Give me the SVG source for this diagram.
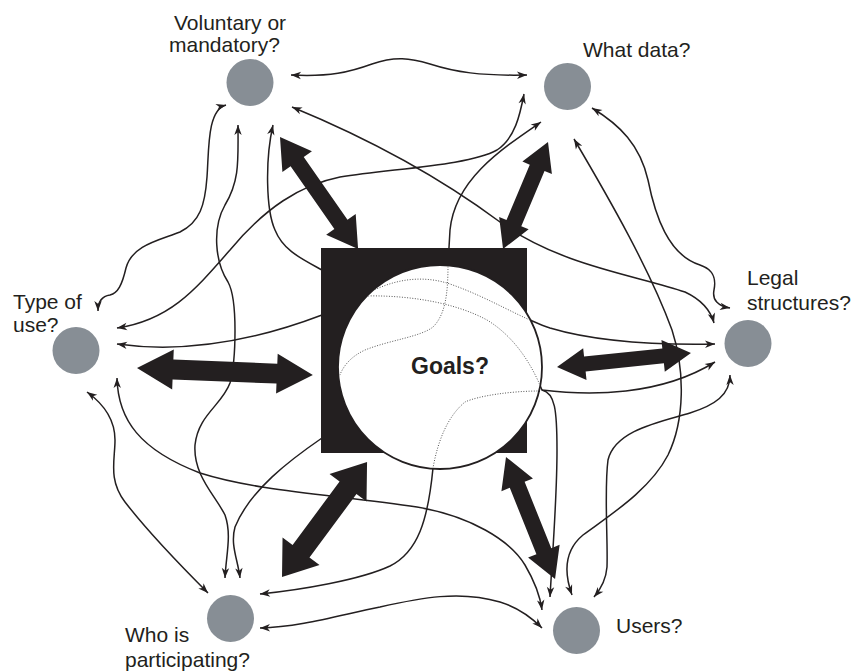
<svg xmlns="http://www.w3.org/2000/svg" width="855" height="672" viewBox="0 0 855 672">
<style>
.lbl{font-family:"Liberation Sans",Arial,sans-serif;font-size:21px;fill:#231f20}
.node{fill:#878e95}
.ln{fill:none;stroke:#231f20;stroke-width:1.5;marker-end:url(#ah)}
.both{marker-start:url(#ah)}
.dot{fill:none;stroke:#555;stroke-width:1;stroke-dasharray:1 1.6}
.thick{fill:#231f20}
</style>
<defs>
<marker id="ah" markerUnits="userSpaceOnUse" markerWidth="11" markerHeight="9" refX="10" refY="4" orient="auto-start-reverse" overflow="visible">
<path d="M0,0.3 L10,4 L0,7.7 L2.8,4 z" fill="#231f20"/>
</marker>
<clipPath id="cc"><circle cx="440" cy="367" r="101"/></clipPath>
</defs>
<rect width="855" height="672" fill="#fff"/>

<g id="connectors">
<path class="ln both" d="M291,75 C330,77 350,72 372,64 C395,56 410,58 430,64 C455,72 480,76 527,75"/>
<path class="ln both" d="M292,107 C360,135 430,170 500,222 C560,266 640,276 685,292 C702,300 711,312 714,323"/>
<path class="ln both" d="M117,328 C170,320 195,290 230,250 C265,208 300,185 340,177 C400,168 470,165 497,150 C515,138 520,115 524,94"/>
<path id="p1" class="ln both" d="M117,344 C160,350 230,350 322,315 C340,308 350,300 363,296 C390,280 420,274 450,284 C490,298 520,318 550,328 C600,343 660,345 715,344"/>
<path id="p2" class="ln" d="M363,296 C400,295 450,300 487,320 C515,337 532,365 542,390 C590,396 660,396 715,362"/>
<path id="p3" class="ln both" d="M541,122 C500,150 455,180 450,230 L448,265 C448,295 445,315 433,327 C420,337 390,340 365,350 C350,357 342,367 338,380 C330,400 325,420 322,438 C290,460 250,490 235,527 C230,545 238,560 240,578"/>
<path id="p4" class="ln" d="M540,391 C510,391 478,396 465,402 C448,416 438,440 433,468 C428,520 418,552 390,566 C360,580 300,590 260,594"/>
<path class="ln" d="M542,390 C555,393 557,410 557,450 C557,500 552,560 550,597"/>
<path class="ln" d="M322,270 C300,258 283,250 275,230 C266,210 265,160 273,125"/>
<path class="ln both" d="M238,125 C238,160 240,180 225,205 C212,228 215,262 228,282 C238,300 236,360 230,383 C222,405 198,415 195,445 C193,475 215,495 225,515 C232,535 226,555 225,578"/>
<path class="ln both" d="M98,311 C98,301 103,296 110,295 C118,293 122,285 126,268 C132,245 160,240 180,232 C200,222 205,205 207,177 C209,150 207,110 226,105"/>
<path class="ln both" d="M87,392 C105,405 115,420 115,440 C115,460 108,480 125,502 C145,528 180,565 208,593"/>
<path class="ln both" d="M117,378 C118,420 140,450 200,473 C260,492 340,495 417,507 C470,516 510,540 525,565 C535,582 540,595 542,610"/>
<path class="ln both" d="M260,628 C300,627 340,615 380,607 C420,598 460,590 500,602 C520,608 532,618 542,628"/>
<path class="ln both" d="M592,108 C620,125 640,145 648,180 C655,215 668,255 700,265 C715,270 716,280 714,290 C712,300 718,306 730,308"/>
<path class="ln both" d="M574,139 C610,200 650,270 672,330 C685,370 685,420 668,455 C650,490 610,515 583,535 C565,550 563,570 572,595"/>
<path class="ln both" d="M730,375 C730,395 715,405 690,413 C660,422 615,430 608,460 C604,490 608,540 607,567 C606,580 600,590 594,597"/>
</g>

<g id="goals">
<rect x="321" y="248" width="206" height="205" fill="#231f20"/>
<circle cx="440" cy="367" r="102" fill="#fff" stroke="#231f20" stroke-width="1.8"/>
<text x="411" y="374" class="lbl" style="font-weight:bold;font-size:23px">Goals?</text>
</g>

<g id="connectors-hidden" clip-path="url(#cc)">
<path class="dot" d="M117,344 C160,350 230,350 322,315 C340,308 350,300 363,296 C390,280 420,274 450,284 C490,298 520,318 550,328 C600,343 660,345 715,344"/>
<path class="dot" d="M363,296 C400,295 450,300 487,320 C515,337 532,365 542,390"/>
<path class="dot" d="M450,230 L448,265 C448,295 445,315 433,327 C420,337 390,340 365,350 C350,357 342,367 338,380"/>
<path class="dot" d="M540,391 C510,391 478,396 465,402 C448,416 438,440 433,468"/>
</g>

<g id="connectors-thick">
<polygon class="thick" transform="translate(280,137) rotate(55.1)" points="0,0 30,-18 30,-8 106.5,-8 106.5,-18 136.5,0 106.5,18 106.5,8 30,8 30,18"/>
<polygon class="thick" transform="translate(548,142) rotate(112.8)" points="0,0 28,-16 28,-8 88,-8 88,-16 116,0 88,16 88,8 28,8 28,16"/>
<polygon class="thick" transform="translate(137,368) rotate(2.3)" points="0,0 36,-20 36,-10 140,-10 140,-20 176,0 140,20 140,10 36,10 36,20"/>
<polygon class="thick" transform="translate(557,367) rotate(-6)" points="0,0 28,-16 28,-7.5 106.7,-7.5 106.7,-16 134.7,0 106.7,16 106.7,7.5 28,7.5 28,16"/>
<polygon class="thick" transform="translate(282,577) rotate(-53.5)" points="0,0 32,-23 32,-10.5 111,-10.5 111,-23 143,0 111,23 111,10.5 32,10.5 32,23"/>
<polygon class="thick" transform="translate(506,457) rotate(68.1)" points="0,0 30,-17 30,-8 101.5,-8 101.5,-17 131.5,0 101.5,17 101.5,8 30,8 30,17"/>
</g>

<g id="voluntary">
<circle class="node" cx="250" cy="82.5" r="23.5"/>
<text class="lbl" x="174" y="30">Voluntary or</text>
<text class="lbl" x="169" y="52">mandatory?</text>
</g>
<g id="what-data">
<circle class="node" cx="567.5" cy="86.5" r="23.5"/>
<text class="lbl" x="583" y="57">What data?</text>
</g>
<g id="legal">
<circle class="node" cx="748" cy="343.5" r="23.5"/>
<text class="lbl" x="747" y="285">Legal</text>
<text class="lbl" x="747" y="310">structures?</text>
</g>
<g id="type-of-use">
<circle class="node" cx="76" cy="350.5" r="23.5"/>
<text class="lbl" x="13" y="309">Type of</text>
<text class="lbl" x="13" y="332">use?</text>
</g>
<g id="who">
<circle class="node" cx="230.5" cy="618.5" r="23.5"/>
<text class="lbl" x="125" y="642">Who is</text>
<text class="lbl" x="125" y="667">participating?</text>
</g>
<g id="users">
<circle class="node" cx="576.5" cy="630.5" r="23.5"/>
<text class="lbl" x="616" y="633">Users?</text>
</g>
</svg>
